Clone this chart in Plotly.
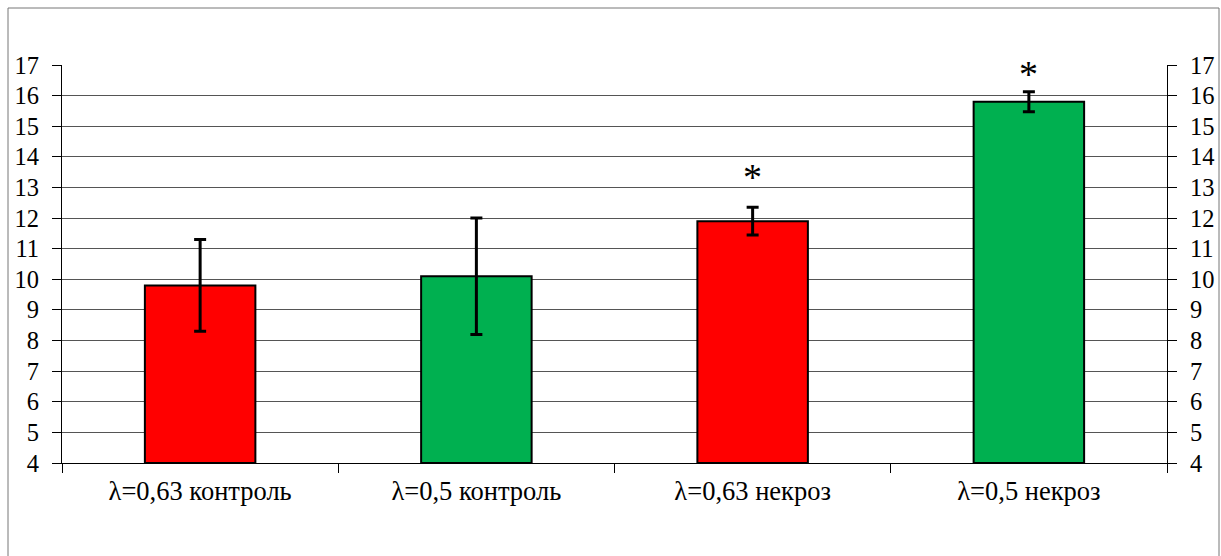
import plotly.graph_objects as go

categories = ["λ=0,63 контроль", "λ=0,5 контроль", "λ=0,63 некроз", "λ=0,5 некроз"]
values = [9.8, 10.1, 11.9, 15.8]
errors = [1.5, 1.9, 0.45, 0.33]
colors = ["#FF0000", "#00B050", "#FF0000", "#00B050"]
star_y = [None, None, 13.35, 16.7]
y_ticks = list(range(4, 18))

FONT = "Liberation Serif"

fig = go.Figure()
fig.add_trace(go.Bar(
    x=categories, y=[v - 4 for v in values], base=4,
    marker=dict(color=colors, line=dict(color="black", width=2)),
    error_y=dict(type="data", array=errors, color="black", thickness=3, width=6),
    width=0.4, showlegend=False, hoverinfo="skip",
))
# invisible trace to activate right axis
fig.add_trace(go.Scatter(x=categories, y=values, yaxis="y2", mode="markers",
                         marker=dict(opacity=0), showlegend=False, hoverinfo="skip"))

for c, s in zip(categories, star_y):
    if s is not None:
        fig.add_annotation(x=c, y=s, text="*", showarrow=False,
                           font=dict(family=FONT, size=38, color="black"))

axis_y = dict(range=[4, 17], tickvals=y_ticks, ticks="outside", ticklen=9,
              tickcolor="black", showline=True, linecolor="black", linewidth=1,
              ticklabelstandoff=8, automargin=False,
              tickfont=dict(family=FONT, size=24.5, color="black"))

W, H = 1221, 556
L, T, PW, PH = 62, 65, 1105, 398
BX0, BX1, BY0 = 8, 1219, 8

fig.update_layout(
    width=W, height=H,
    margin=dict(l=L, r=W - L - PW, t=T, b=H - T - PH),
    font=dict(family=FONT, color="black"),
    plot_bgcolor="white", paper_bgcolor="white",
    bargap=0.6,
    xaxis=dict(type="category", tickson="boundaries", ticks="outside", ticklen=9,
               tickcolor="black", showline=True, linecolor="black", linewidth=1,
               showgrid=False, ticklabelstandoff=4, automargin=False,
               tickfont=dict(family=FONT, size=26.5, color="black")),
    yaxis=dict(**axis_y, showgrid=True, gridcolor="#555555", gridwidth=1,
               zeroline=False),
    yaxis2=dict(**axis_y, overlaying="y", side="right", showgrid=False,
                zeroline=False, anchor="x"),
    shapes=[dict(type="rect", xref="paper", yref="paper",
                 x0=(BX0 - L) / PW, x1=(BX1 - L) / PW,
                 y0=(T + PH - 600) / PH, y1=(T + PH - BY0) / PH,
                 line=dict(color="#777777", width=1), layer="below")],
)

fig.write_html("out.html", config={"displayModeBar": False},
               post_script="document.body.style.margin='0';document.body.style.overflow='hidden';")
